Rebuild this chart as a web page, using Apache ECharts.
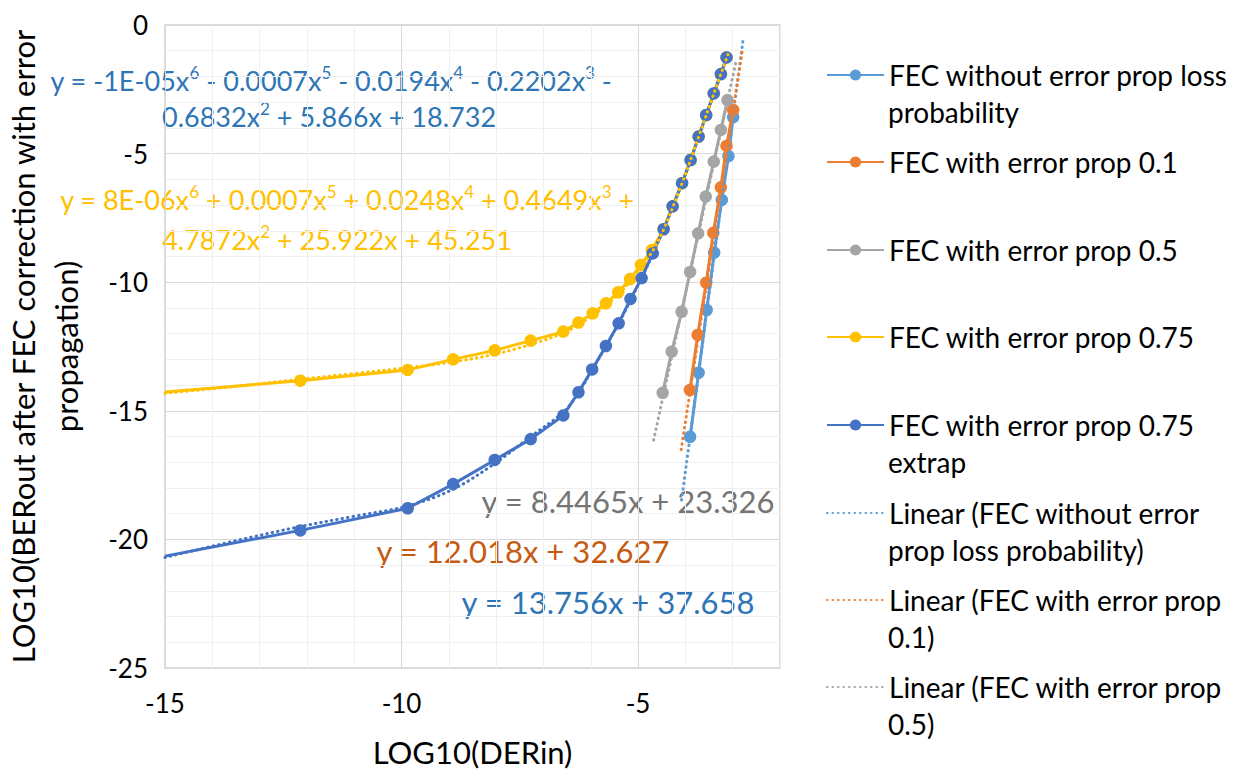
<!DOCTYPE html>
<html>
<head>
<meta charset="utf-8">
<script src="https://cdn.jsdelivr.net/npm/echarts@6/dist/echarts.min.js"></script>
<style>
html,body{margin:0;padding:0;background:#ffffff;}
#chart{width:1233px;height:772px;}
</style>
</head>
<body>
<div id="chart"></div>
<script>
// ---------- data ----------
const xTickLabels = [-15, -10, -5];
const yTickLabels = [0, -5, -10, -15, -20, -25];

const nameNoProp = 'FEC without error prop loss probability';
const name01 = 'FEC with error prop 0.1';
const name05 = 'FEC with error prop 0.5';
const name075 = 'FEC with error prop 0.75';
const nameExtrap = 'FEC with error prop 0.75 extrap';
const nameLinNoProp = 'Linear (FEC without error prop loss probability)';
const nameLin01 = 'Linear (FEC with error prop 0.1)';
const nameLin05 = 'Linear (FEC with error prop 0.5)';
const namePoly075 = 'Poly. (FEC with error prop 0.75)';
const namePolyExtrap = 'Poly. (FEC with error prop 0.75 extrap)';

const xNoProp = [-3.90, -3.72, -3.55, -3.39, -3.23, -3.09, -2.99];
const yNoProp = [-16.01, -13.52, -11.08, -8.85, -6.80, -5.10, -3.58];

const xProp01 = [-3.905, -3.74, -3.56, -3.41, -3.25, -3.13, -2.99];
const yProp01 = [-14.19, -12.05, -10.02, -8.08, -6.31, -4.70, -3.30];

const xProp05 = [-4.48, -4.29, -4.08, -3.90, -3.73, -3.57, -3.40, -3.25, -3.11];
const yProp05 = [-14.30, -12.70, -11.15, -9.60, -8.10, -6.67, -5.31, -4.08, -2.92];

const xProp075 = [-15, -12.14, -9.87, -8.91, -8.03, -7.27, -6.58, -6.26, -5.96, -5.68, -5.42, -5.17, -4.94, -4.71, -4.46, -4.27, -4.07, -3.89, -3.72, -3.56, -3.40, -3.25, -3.13];
const yProp075 = [-14.27, -13.83, -13.41, -13.00, -12.65, -12.27, -11.92, -11.57, -11.21, -10.82, -10.39, -9.88, -9.33, -8.75, -7.94, -7.05, -6.15, -5.25, -4.34, -3.50, -2.66, -1.91, -1.26];

const xExtrap = [-15, -12.14, -9.87, -8.91, -8.03, -7.27, -6.58, -6.26, -5.97, -5.68, -5.41, -5.16, -4.925, -4.69, -4.46, -4.27, -4.07, -3.89, -3.72, -3.56, -3.40, -3.25, -3.13];
const yExtrap = [-20.65, -19.65, -18.79, -17.85, -16.91, -16.10, -15.18, -14.28, -13.39, -12.48, -11.60, -10.65, -9.84, -8.88, -7.94, -7.05, -6.15, -5.25, -4.34, -3.50, -2.66, -1.91, -1.26];

// trendlines (dotted)
const xLinNoProp = [-4.08, -2.774];
const yLinNoProp = [-18.47, -0.50];
const xLin01 = [-4.089, -2.798];
const yLin01 = [-16.51, -1.00];
const xLin05 = [-4.672, -2.938];
const yLin05 = [-16.14, -1.49];

const xPoly075 = [-15, -13.5, -12.14, -11, -9.87, -8.91, -8.03, -7.27, -6.58, -6.0, -5.5, -5.17, -4.94, -4.69, -4.46, -4.07, -3.72, -3.40, -3.10];
const yPoly075 = [-14.32, -14.05, -13.77, -13.55, -13.32, -13.10, -12.80, -12.42, -11.97, -11.35, -10.62, -9.97, -9.40, -8.78, -7.95, -6.15, -4.35, -2.68, -1.15];
const xPolyExtrap = [-15, -13.5, -12.14, -11, -9.87, -8.91, -8.03, -7.27, -6.58, -6.26, -5.97, -5.68, -5.41, -5.16, -4.92, -4.69, -4.46, -4.07, -3.72, -3.40, -3.13];
const yPolyExtrap = [-20.70, -20.05, -19.50, -19.10, -18.70, -18.05, -17.05, -16.00, -15.05, -14.30, -13.40, -12.50, -11.60, -10.70, -9.82, -8.90, -7.96, -6.15, -4.35, -2.68, -1.28];

const legendNames = [nameNoProp, name01, name05, name075, nameExtrap, nameLinNoProp, nameLin01, nameLin05];
const legendFirstLines = ['FEC without error prop loss', 'FEC with error prop 0.1', 'FEC with error prop 0.5', 'FEC with error prop 0.75', 'FEC with error prop 0.75', 'Linear (FEC without error', 'Linear (FEC with error prop', 'Linear (FEC with error prop'];
const legendSecondLines = ['probability', '', '', '', 'extrap', 'prop loss probability)', '0.1)', '0.5)'];

// ---------- styling ----------
const FONT = 'Lato, "Open Sans", "Noto Sans", sans-serif';
const C_NOPROP = '#5B9BD5', C_01 = '#ED7D31', C_05 = '#A5A5A5', C_075 = '#FFC000', C_EXT = '#4472C4';
const legendColors = [C_NOPROP, C_01, C_05, C_075, C_EXT, C_NOPROP, C_01, C_05];
const legendCenters = [75, 162, 250, 337, 425, 513, 600, 687];
const GRID = {left: 165, top: 25, width: 615, height: 643};

function pairs(xs, ys) {
  return xs.map((x, i) => {
    const item = {value: [x, ys[i]]};
    if (x <= -15) item.symbolSize = 0;
    return item;
  });
}
function dataSeries(name, xs, ys, color, z) {
  return {
    name, type: 'line', data: pairs(xs, ys), z,
    symbol: 'circle', symbolSize: 12.5, showSymbol: true,
    lineStyle: {color, width: 3}, itemStyle: {color, borderWidth: 0},
    emphasis: {disabled: true}, animation: false, clip: true
  };
}
function trendSeries(name, xs, ys, color, smooth) {
  return {
    name, type: 'line', data: xs.map((x, i) => [x, ys[i]]), z: 10,
    symbol: 'none', smooth: smooth ? 0.35 : false,
    lineStyle: {color, width: 3, type: [0.5, 5], cap: 'round'},
    itemStyle: {color},
    emphasis: {disabled: true}, animation: false, clip: true
  };
}

const supStyle = {fontSize: 17, lineHeight: 22, verticalAlign: 'top', fontFamily: FONT};
function eqText(text, x, y, size, color) {
  return {
    type: 'text', x, y, silent: true,
    style: {
      text, fill: color, fontSize: size, fontFamily: FONT, lineHeight: size + 6,
      align: 'center', verticalAlign: 'middle',
      rich: {s: Object.assign({}, supStyle, {fill: color})}
    }
  };
}

const graphics = [
  eqText('y = -1E-05x{s|6} - 0.0007x{s|5} - 0.0194x{s|4} - 0.2202x{s|3} -', 331, 80, 27, '#2E75B6'),
  eqText('0.6832x{s|2} + 5.866x + 18.732', 329, 116, 27, '#2E75B6'),
  eqText('y = 8E-06x{s|6} + 0.0007x{s|5} + 0.0248x{s|4} + 0.4649x{s|3} +', 347, 199, 27, '#FFC000'),
  eqText('4.7872x{s|2} + 25.922x + 45.251', 337, 239, 27, '#FFC000'),
  eqText('y = 8.4465x + 23.326', 628, 501, 31, '#757575'),
  eqText('y = 12.018x + 32.627', 523, 551, 31, '#C55A11'),
  eqText('y = 13.756x + 37.658', 608, 602, 31, '#2E75B6')
];
legendSecondLines.forEach((t, i) => {
  if (!t) return;
  graphics.push({
    type: 'text', x: 888, y: legendCenters[i] + 36.7, silent: true,
    style: {text: t, fill: '#000', fontSize: 28, fontFamily: FONT, align: 'left', verticalAlign: 'middle'}
  });
});

const legends = legendNames.map((n, i) => {
  const isTrend = i >= 5;
  return {
    data: [n], left: 826, top: legendCenters[i] - 18, padding: 0, orient: 'vertical',
    itemWidth: 57, itemHeight: 14, selectedMode: false,
    formatter: legendFirstLines[i],
    textStyle: {fontSize: 28, lineHeight: 36, color: '#000', fontFamily: FONT},
    itemStyle: isTrend ? {opacity: 0} : {color: legendColors[i], borderWidth: 0, opacity: 1},
    lineStyle: {color: legendColors[i]}
  };
});

const majorMinor = ['#D9D9D9', '#F0F0F0', '#F0F0F0', '#F0F0F0', '#F0F0F0'];

const option = {
  animation: false,
  backgroundColor: '#ffffff',
  textStyle: {fontFamily: FONT},
  grid: Object.assign({show: true, borderColor: '#D0D0D0', borderWidth: 1.5, backgroundColor: 'transparent', containLabel: false}, GRID),
  legend: legends,
  xAxis: {
    type: 'value', min: -15, max: -2, interval: 1,
    axisLine: {show: false}, axisTick: {show: false},
    splitLine: {show: true, lineStyle: {color: majorMinor, width: 1}},
    axisLabel: {
      fontSize: 26, color: '#000', fontFamily: FONT, margin: 22,
      formatter: v => (xTickLabels.indexOf(v) >= 0 ? String(v) : '')
    },
    name: 'LOG10(DERin)', nameLocation: 'middle', nameGap: 68,
    nameTextStyle: {fontSize: 31, color: '#000', fontFamily: FONT}
  },
  yAxis: {
    type: 'value', min: -25, max: 0, interval: 1,
    axisLine: {show: false}, axisTick: {show: false},
    splitLine: {show: true, lineStyle: {color: majorMinor, width: 1}},
    axisLabel: {
      fontSize: 26, color: '#000', fontFamily: FONT, margin: 17,
      formatter: v => (yTickLabels.indexOf(v) >= 0 ? String(v) : '')
    },
    name: 'LOG10(BERout after FEC correction with error\npropagation)',
    nameLocation: 'middle', nameRotate: 90, nameGap: 78,
    nameTextStyle: {fontSize: 31, lineHeight: 43, color: '#000', fontFamily: FONT, align: 'center'}
  },
  series: [
    dataSeries(nameNoProp, xNoProp, yNoProp, C_NOPROP, 2),
    dataSeries(name01, xProp01, yProp01, C_01, 3),
    dataSeries(name05, xProp05, yProp05, C_05, 4),
    dataSeries(name075, xProp075, yProp075, C_075, 5),
    dataSeries(nameExtrap, xExtrap, yExtrap, C_EXT, 6),
    trendSeries(nameLinNoProp, xLinNoProp, yLinNoProp, C_NOPROP, false),
    trendSeries(nameLin01, xLin01, yLin01, C_01, false),
    trendSeries(nameLin05, xLin05, yLin05, C_05, false),
    trendSeries(namePolyExtrap, xPolyExtrap, yPolyExtrap, C_EXT, true),
    trendSeries(namePoly075, xPoly075, yPoly075, C_075, true)
  ],
  graphic: graphics
};

const chart = echarts.init(document.getElementById('chart'), null, {renderer: 'svg', width: 1233, height: 772});
chart.setOption(option);
</script>
</body>
</html>
